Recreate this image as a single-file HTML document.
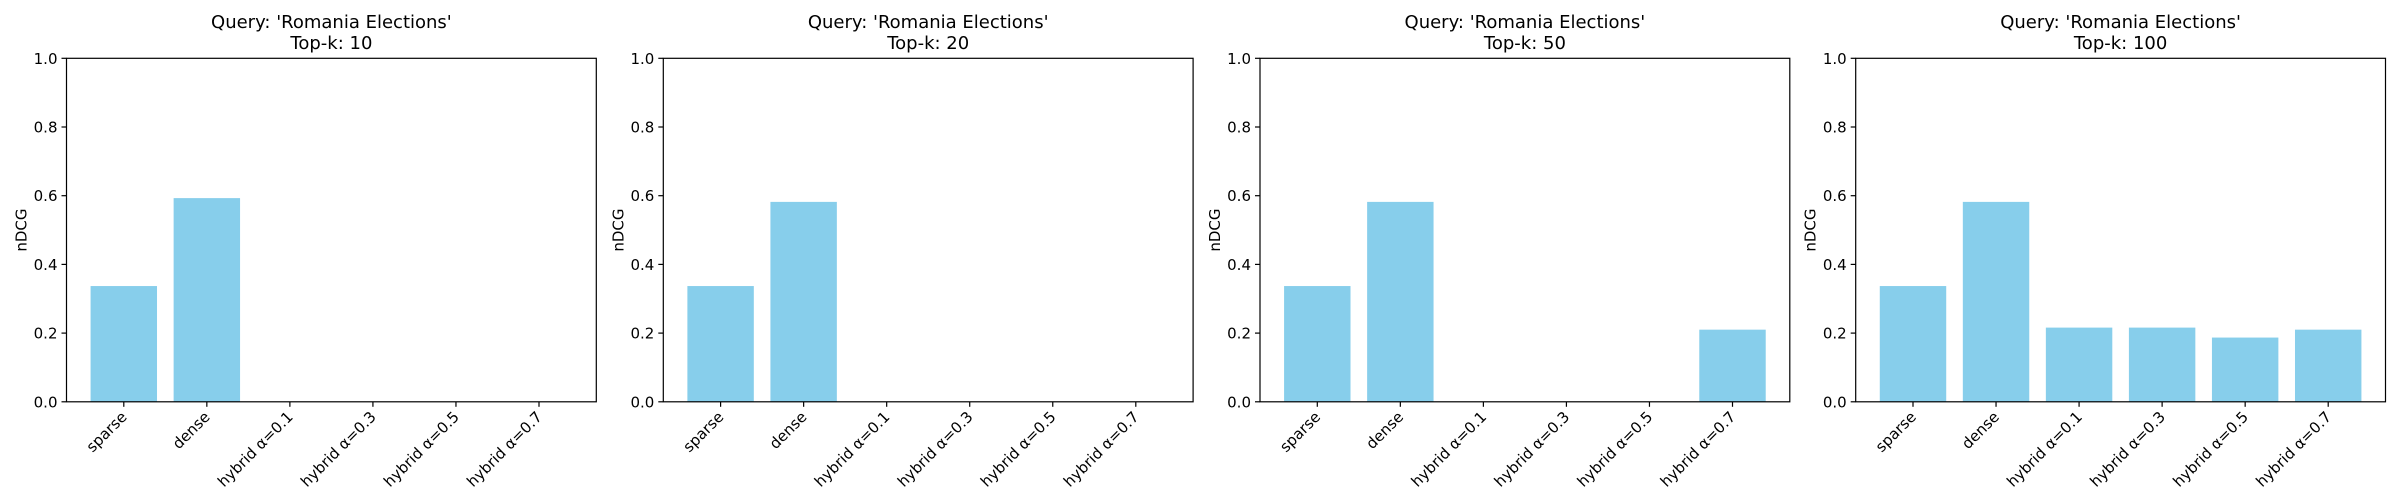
<!DOCTYPE html>
<html><head><meta charset="utf-8"><style>
body{margin:0;background:#fff}
svg{display:block;font-family:"DejaVu Sans","Liberation Sans",sans-serif}
</style></head><body>
<svg id="c" width="2400" height="500" xmlns="http://www.w3.org/2000/svg"></svg>
<script>
const categories=["sparse","dense","hybrid α=0.1","hybrid α=0.3","hybrid α=0.5","hybrid α=0.7"];
const topKs=[10,20,50,100];
const valuesK10=[0.337,0.593,0,0,0,0];
const valuesK20=[0.337,0.582,0,0,0,0];
const valuesK50=[0.337,0.582,0,0,0,0.21];
const valuesK100=[0.337,0.582,0.216,0.216,0.187,0.21];
const yTicks=[0,0.2,0.4,0.6,0.8,1.0];
const yTickLabels=["0.0","0.2","0.4","0.6","0.8","1.0"];
const series=[valuesK10,valuesK20,valuesK50,valuesK100];
const panelLefts=[66.5,663.3,1260,1855.7];
const svg=document.getElementById('c');
const NS="http://www.w3.org/2000/svg";
function mk(t,a,p){const e=document.createElementNS(NS,t);for(const k in a)e.setAttribute(k,a[k]);(p||svg).appendChild(e);return e;}
const plotTop=58.3,plotBot=401.8,W=529.8;
series.forEach((vals,pi)=>{
  const L=panelLefts[pi];
  const g=mk('g',{});
  
  
  const n=categories.length;
  const x0=-0.4-0.05*(n-1+0.8),x1=n-1+0.4+0.05*(n-1+0.8);
  const X=v=>L+(v-x0)/(x1-x0)*W;
  const Y=v=>plotBot-v*(plotBot-plotTop);
  vals.forEach((v,i)=>{
    const r=mk('rect',{x:X(i-0.4),y:Y(v),width:X(i+0.4)-X(i-0.4),height:plotBot-Y(v),fill:'#87ceeb'},g);
    
    
  });
  mk('rect',{x:L,y:plotTop,width:W,height:plotBot-plotTop,fill:'none',stroke:'#000','stroke-width':1.2},g);
  yTicks.forEach((t,i)=>{
    mk('line',{x1:L-5,x2:L,y1:Y(t),y2:Y(t),stroke:'#000','stroke-width':1.2},g);
    const tx=mk('text',{x:L-9,y:Y(t)+5.5,'text-anchor':'end','font-size':15,fill:'#000'},g);
    tx.textContent=yTickLabels[i];
    
    
  });
  categories.forEach((c,i)=>{
    mk('line',{x1:X(i),x2:X(i),y1:plotBot,y2:plotBot+5,stroke:'#000','stroke-width':1.2},g);
    const tx=mk('text',{x:X(i)+4,y:plotBot+16,'text-anchor':'end','font-size':15,fill:'#000',transform:`rotate(-45 ${X(i)+4} ${plotBot+16})`},g);
    tx.textContent=c;
    
    
  });
  const yl=mk('text',{x:L-40,y:(plotTop+plotBot)/2,'text-anchor':'middle','font-size':15,transform:`rotate(-90 ${L-40} ${(plotTop+plotBot)/2})`},g);
  yl.textContent='nDCG';
  
  
  const t1=mk('text',{x:L+W/2,y:28,'text-anchor':'middle','font-size':18},g);
  t1.textContent="Query: 'Romania Elections'";
  
  
  const t2=mk('text',{x:L+W/2,y:49,'text-anchor':'middle','font-size':18},g);
  t2.textContent='Top-k: '+topKs[pi];
  
  
});
</script>
</body></html>
